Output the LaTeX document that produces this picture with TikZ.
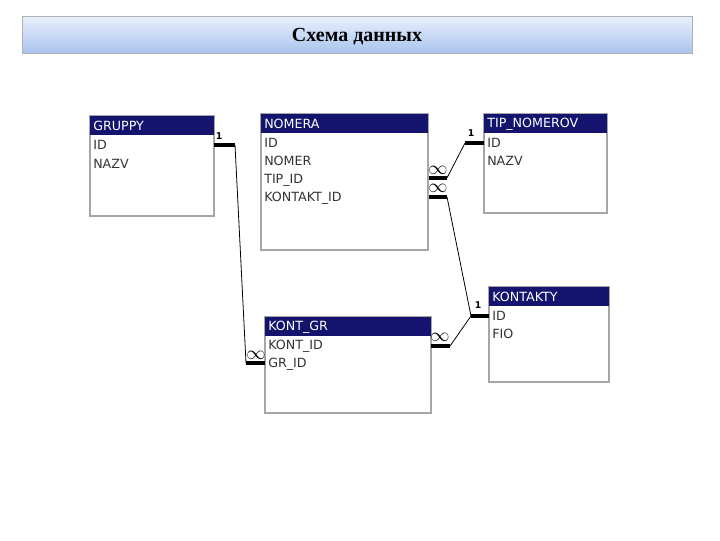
\documentclass[tikz,border=0pt]{standalone}
\usepackage{fontspec}
\setmainfont{Liberation Serif}
\newfontfamily\tabfont{DejaVu Sans}
\definecolor{hdr}{HTML}{14146E}
\definecolor{tb1}{HTML}{E8F0FC}
\definecolor{tb2}{HTML}{A9C4EE}
\begin{document}
\begin{tikzpicture}[x=0.75pt,y=-0.75pt,
  body/.style={draw=gray!70,fill=white,line width=0.8pt},
  head/.style={fill=hdr},
  ht/.style={anchor=west,text=white,font=\tabfont\fontsize{9.5}{10}\selectfont,inner sep=0pt},
  ft/.style={anchor=west,text=black!80,font=\tabfont\fontsize{9.5}{10}\selectfont,inner sep=0pt},
  thk/.style={line width=2.4pt},
  thn/.style={line width=0.6pt},
  lab/.style={font=\tabfont\bfseries\fontsize{7}{8}\selectfont,inner sep=0pt},
  inf/.style={font=\fontsize{14}{14}\selectfont,inner sep=0pt}]
\useasboundingbox (0,0) rectangle (720,540);
\node[draw=gray!60,top color=tb1,bottom color=tb2,minimum width=670*0.75pt,minimum height=37*0.75pt,anchor=north west,inner sep=0pt] (title) at (22,16) {};
\node[font=\bfseries\fontsize{15}{16}\selectfont] (tt) at (357,37) {Схема данных};
\newcommand\tbl[6]{%
 \draw[body] (#1,#2) rectangle (#3,#4);
 \fill[head] (#1,#2) rectangle (#3,#2+19);
 \node[ht] (#5) at (#1+3,#2+10) {#6};}
\tbl{90}{116}{214}{216}{g}{GRUPPY}
\node[ft] (g1) at (93,145) {ID};
\node[ft] (g2) at (93,164) {NAZV};
\tbl{261}{114}{428}{250}{n}{NOMERA}
\node[ft] (n1) at (264,143) {ID};
\node[ft] (n2) at (264,161) {NOMER};
\node[ft] (n3) at (264,180) {TIP\_ID};
\node[ft] (n4) at (264,198) {KONTAKT\_ID};
\tbl{484}{114}{607}{213}{t}{TIP\_NOMEROV}
\node[ft] (t1) at (487,143) {ID};
\node[ft] (t2) at (487,161) {NAZV};
\tbl{489}{287}{609}{382}{k}{KONTAKTY}
\node[ft] (k1) at (492,316) {ID};
\node[ft] (k2) at (492,334) {FIO};
\tbl{265}{317}{431}{413}{kg}{KONT\_GR}
\node[ft] (kg1) at (268,346) {KONT\_ID};
\node[ft] (kg2) at (268,364) {GR\_ID};
\coordinate (a1) at (214,145); \coordinate (a2) at (235,145);
\coordinate (a3) at (246,363); \coordinate (a4) at (265,363);
\draw[thk] (a1)--(a2); \draw[thn] (a2)--(a3); \draw[thk] (a3)--(a4);
\node[lab] (l1) at (219,136) {1};
\node[inf] (i1) at (256,355) {$\infty$};
\coordinate (b1) at (429,178); \coordinate (b2) at (447,178);
\coordinate (b3) at (465,143); \coordinate (b4) at (484,143);
\draw[thk] (b1)--(b2); \draw[thn] (b2)--(b3); \draw[thk] (b3)--(b4);
\node[inf] (i2) at (438,170) {$\infty$};
\node[lab] (l2) at (471,133) {1};
\coordinate (c1) at (429,197); \coordinate (c2) at (447,197);
\coordinate (c3) at (471,316); \coordinate (c4) at (489,316);
\draw[thk] (c1)--(c2); \draw[thn] (c2)--(c3); \draw[thk] (c3)--(c4);
\node[inf] (i3) at (438,188) {$\infty$};
\node[lab] (l3) at (478,305) {1};
\coordinate (d1) at (431,346); \coordinate (d2) at (450,346);
\draw[thk] (d1)--(d2); \draw[thn] (d2)--(c3);
\node[inf] (i4) at (440,337) {$\infty$};
\end{tikzpicture}
\end{document}
